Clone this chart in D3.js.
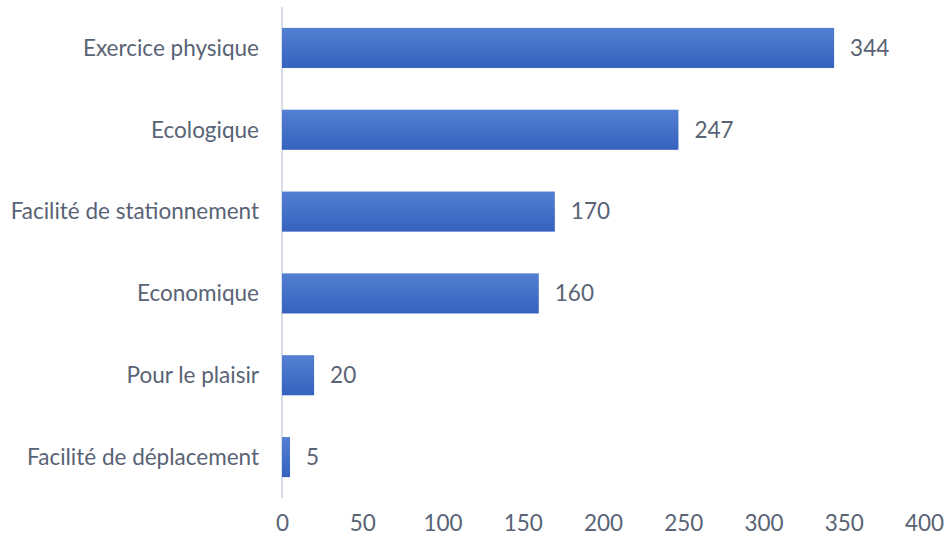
<!DOCTYPE html>
<html><head><meta charset="utf-8">
<script src="https://cdn.jsdelivr.net/npm/d3@7"></script>
<style>body{margin:0;background:#fff}svg{display:block}text{font-family:Lato,"Open Sans",sans-serif}</style>
</head><body><svg id="c" width="948" height="542"></svg>
<script>
const categories = ["Exercice physique","Ecologique","Facilité de stationnement","Economique","Pour le plaisir","Facilité de déplacement"];
const values = [344,247,170,160,20,5];
const xTicks = [0,50,100,150,200,250,300,350,400];

const svg = d3.select("#c");
const defs = svg.append("defs");
const g = defs.append("linearGradient").attr("id","bg").attr("x1",0).attr("y1",0).attr("x2",0).attr("y2",1);
g.append("stop").attr("offset","0%").attr("stop-color","#5480d2");
g.append("stop").attr("offset","100%").attr("stop-color","#3462be");

const fs = 22.5;
const x = d3.scaleLinear().domain([0,400]).range([282,924]);
const y = d3.scaleBand().domain(categories).range([7,498]).paddingInner(0.51).paddingOuter(0.255);
const textColor = "#596375";

svg.append("line").attr("x1",x(0)).attr("x2",x(0)).attr("y1",7).attr("y2",498)
  .attr("stroke","#d9dde6").attr("stroke-width",2);

svg.selectAll("rect.bar").data(values).enter().append("rect").attr("class","bar")
  .attr("x",x(0)).attr("y",(d,i)=>y(categories[i]))
  .attr("width",d=>x(d)-x(0)).attr("height",y.bandwidth())
  .attr("fill","url(#bg)");

svg.selectAll("text.val").data(values).enter().append("text").attr("class","val")
  .attr("x",d=>x(d)+16).attr("y",(d,i)=>y(categories[i])+y.bandwidth()/2)
  .attr("dy","0.35em").attr("fill",textColor).attr("font-size",fs).text(d=>d);

svg.selectAll("text.cat").data(categories).enter().append("text").attr("class","cat")
  .attr("x",259).attr("y",d=>y(d)+y.bandwidth()/2)
  .attr("dy","0.35em").attr("text-anchor","end").attr("fill",textColor).attr("font-size",fs).text(d=>d);

const ax = svg.append("g").attr("transform","translate(0,523)")
  .call(d3.axisBottom(x).tickValues(xTicks).tickSize(0).tickPadding(0).tickFormat(d3.format("d")));
ax.select(".domain").remove();
ax.selectAll("text").attr("font-size",fs).attr("fill",textColor).attr("dy","0.35em").attr("y",0)
  .style("font-family","Lato, 'Open Sans', sans-serif");
</script></body></html>
